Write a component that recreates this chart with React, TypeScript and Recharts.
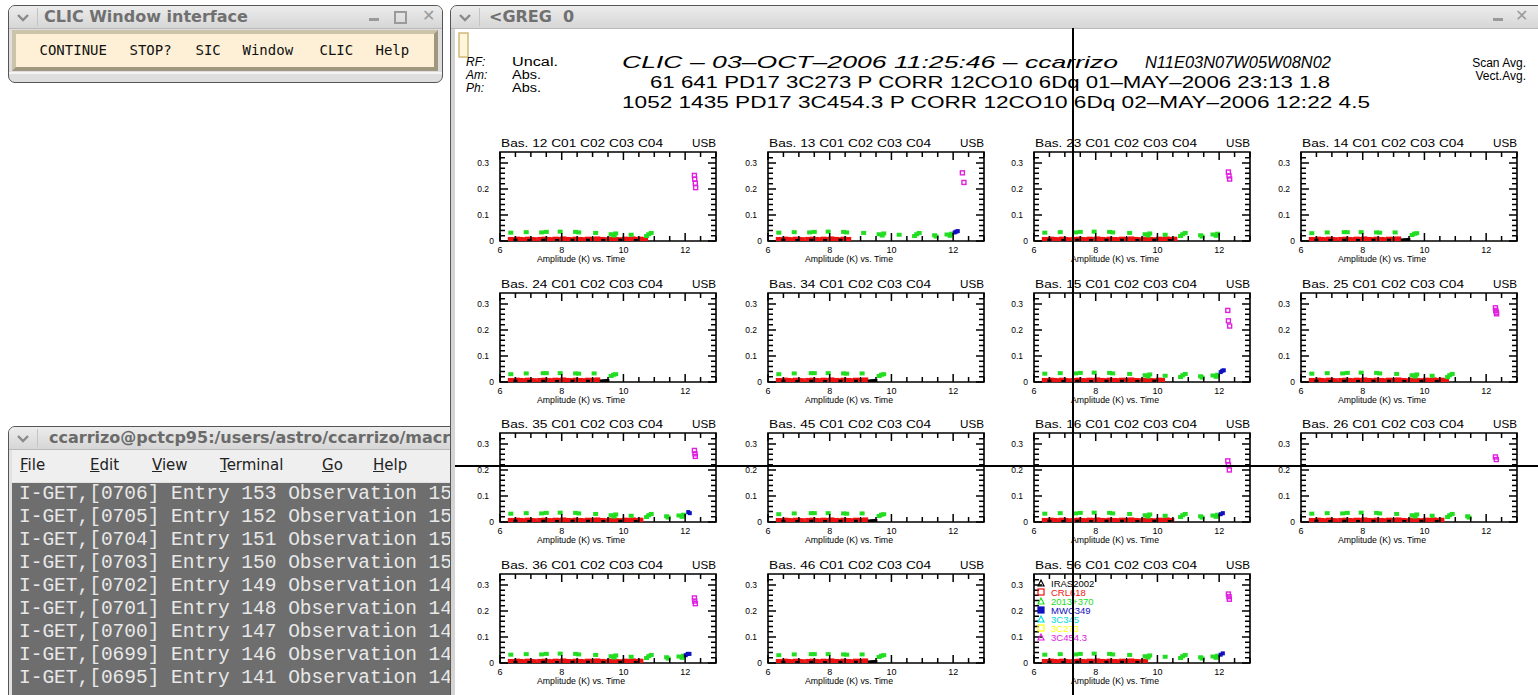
import { ScatterChart, Scatter, XAxis, YAxis, ReferenceArea } from 'recharts'

// axes of every GREG panel (time in hours vs amplitude in K)
const X_TICKS = [6, 6.5, 7, 7.5, 8, 8.5, 9, 9.5, 10, 10.5, 11, 11.5, 12, 12.5, 13]
const X_LABELS = [6, 8, 10, 12]
const Y_TICKS = [0, 0.02, 0.04, 0.06, 0.08, 0.1, 0.12, 0.14, 0.16, 0.18, 0.2, 0.22, 0.24, 0.26, 0.28, 0.3, 0.32]
const Y_LABELS = [0, 0.1, 0.2, 0.3]
const Y_MAX = 0.342

// green source (2013+370) - full and antenna-4 baselines
const GREEN_FULL: [number, number][] = [
  [6.35, 0.032], [6.85, 0.034], [7.35, 0.033], [7.5, 0.035], [7.95, 0.036], [8.45, 0.035], [8.55, 0.033],
  [9.1, 0.031], [9.6, 0.026], [9.7, 0.021], [9.75, 0.029], [10.25, 0.024], [10.75, 0.019], [10.82, 0.026],
  [10.9, 0.031], [11.4, 0.022], [11.45, 0.017], [11.8, 0.025], [11.9, 0.02], [11.95, 0.028],
]
const GREEN_A4: [number, number][] = [
  [6.35, 0.03], [6.85, 0.033], [7.4, 0.034], [7.5, 0.034], [7.95, 0.034], [8.45, 0.033], [8.55, 0.032],
  [9.05, 0.033], [9.6, 0.023], [9.68, 0.028], [9.75, 0.03],
]
// red source (CRL618) sits on the floor
const RED: [number, number][] = [
  [6.35, 0.006], [6.45, 0.005], [6.55, 0.007], [6.65, 0.006], [6.8, 0.005], [6.9, 0.007], [7.0, 0.006],
  [7.1, 0.005], [7.3, 0.006], [7.45, 0.007], [7.55, 0.006], [7.7, 0.005], [7.8, 0.007], [7.95, 0.006],
  [8.05, 0.008], [8.2, 0.006], [8.3, 0.005], [8.45, 0.007], [8.6, 0.006], [8.75, 0.005], [8.85, 0.007],
  [9.0, 0.006], [9.15, 0.008], [9.3, 0.006], [9.45, 0.005], [9.6, 0.007], [9.75, 0.006], [9.9, 0.005],
  [10.05, 0.007], [10.15, 0.006], [10.3, 0.008], [10.45, 0.006], [10.55, 0.007], [10.7, 0.005],
]
const BLACK_FULL: [number, number][] = [
  [6.5, 0.003], [6.95, 0.002], [7.4, 0.003], [7.85, 0.002], [8.35, 0.003], [8.85, 0.003], [9.35, 0.002], [9.9, 0.003], [10.4, 0.002],
]
const BLACK_A4: [number, number][] = [
  [6.5, 0.003], [6.95, 0.002], [7.4, 0.003], [7.85, 0.002], [8.35, 0.003], [8.85, 0.003],
  [9.3, 0.004], [9.36, 0.004], [9.42, 0.005], [9.48, 0.006],
]

// magenta source (3C454.3) at the end of the track
const MAG_12: [number, number][] = [[12.3, 0.252], [12.31, 0.238], [12.33, 0.222], [12.34, 0.205]]
const MAG_13: [number, number][] = [[12.3, 0.262], [12.35, 0.225]]
const MAG_23: [number, number][] = [[12.3, 0.265], [12.32, 0.25], [12.34, 0.238]]
const MAG_15: [number, number][] = [[12.28, 0.275], [12.3, 0.235], [12.34, 0.215]]
const MAG_25: [number, number][] = [[12.3, 0.285], [12.31, 0.275], [12.33, 0.268], [12.34, 0.262]]
const MAG_35: [number, number][] = [[12.3, 0.275], [12.32, 0.262], [12.33, 0.252]]
const MAG_16: [number, number][] = [[12.28, 0.235], [12.3, 0.22], [12.33, 0.2]]
const MAG_26: [number, number][] = [[12.3, 0.25], [12.33, 0.24]]
const MAG_36: [number, number][] = [[12.3, 0.25], [12.31, 0.238], [12.33, 0.228]]
const MAG_56: [number, number][] = [[12.3, 0.265], [12.32, 0.255], [12.33, 0.245]]

// blue source (MWC349)
const BLUE_13: [number, number][] = [[12.05, 0.033], [12.1, 0.036], [12.15, 0.038]]
const BLUE_15: [number, number][] = [[12.05, 0.038], [12.1, 0.043], [12.15, 0.045]]
const BLUE_35: [number, number][] = [[12.1, 0.038], [12.15, 0.034]]
const BLUE_16: [number, number][] = [[12.05, 0.03], [12.12, 0.034]]
const BLUE_36: [number, number][] = [[12.02, 0.03], [12.08, 0.035], [12.14, 0.035]]
const BLUE_56: [number, number][] = [[12.05, 0.032], [12.12, 0.037]]

const LEGEND = ['IRAS2002', 'CRL618', '2013+370', 'MWC349', '3C345', '3C273', '3C454.3']
const LEGEND_COLORS = ['#000000', '#ee1111', '#22dd22', '#1010c0', '#00dddd', '#ffff00', '#e020e0']

type Pt = [number, number]
interface PanelSpec { bas: string; ant4?: boolean; greenTo?: number; redTo?: number; mag?: Pt[]; blue?: Pt[] }

const PANELS: PanelSpec[] = [
  { bas: '12', greenTo: 10.95, redTo: 10.8, mag: MAG_12 },
  { bas: '13', greenTo: 12, redTo: 8.6, mag: MAG_13, blue: BLUE_13 },
  { bas: '23', greenTo: 12, redTo: 10.6, mag: MAG_23 },
  { bas: '14', ant4: true },
  { bas: '24', ant4: true },
  { bas: '34', ant4: true },
  { bas: '15', greenTo: 12, redTo: 10.2, mag: MAG_15, blue: BLUE_15 },
  { bas: '25', greenTo: 10.95, redTo: 10.7, mag: MAG_25 },
  { bas: '35', greenTo: 12, redTo: 10.6, mag: MAG_35, blue: BLUE_35 },
  { bas: '45', ant4: true },
  { bas: '16', greenTo: 12, redTo: 10.5, mag: MAG_16, blue: BLUE_16 },
  { bas: '26', greenTo: 11.5, redTo: 10.6, mag: MAG_26 },
  { bas: '36', greenTo: 12, redTo: 10.6, mag: MAG_36, blue: BLUE_36 },
  { bas: '46', ant4: true },
  { bas: '56', greenTo: 12, redTo: 9.6, mag: MAG_56, blue: BLUE_56 },
]

// layout
const COL_X = [500, 768, 1034, 1301]
const ROW_Y = [152, 293, 433, 574]
const PW = 216
const PH = 89
const ML = 36, MR = 14, MT = 6, MB = 32
const GFONT = '"Liberation Sans", Arial, sans-serif'

const toPts = (a: Pt[]) => a.map(([t, v]) => ({ t, v }))

// bottom axis tick: inward tick on the bottom and mirrored on the top edge
function XTick(props: any) {
  const x = Number(props.x)
  const y = Number(props.y)
  const v = props.payload.value
  const big = X_LABELS.includes(v)
  const len = big ? 8 : 5
  const d = `M${x},${y}V${y - len}M${x},${y - PH}V${y - PH + len}`
  return (
    <g>
      <path d={d} stroke="#000" strokeWidth={1.5} fill="none" />
      {big && <text x={x} y={y + 12} textAnchor="middle" fontSize={9} fontFamily={GFONT} fill="#000">{v}</text>}
    </g>
  )
}

// left axis tick: inward tick on the left and mirrored on the right edge
function YTick(props: any) {
  const x = Number(props.x)
  const y = Number(props.y)
  const v = props.payload.value
  const big = Y_LABELS.includes(v)
  const len = big ? 8 : 5
  const d = `M${x},${y}H${x + len}M${x + PW},${y}H${x + PW - len}`
  return (
    <g>
      <path d={d} stroke="#000" strokeWidth={1.5} fill="none" />
      {big && (
        <text x={v === 0 ? x - 6 : x - 11} y={y + 3} textAnchor="end" fontSize={8.5} fontFamily={GFONT} fill="#000">
          {v === 0 ? '0' : v.toFixed(1)}
        </text>
      )}
    </g>
  )
}

const box = (w: number, h: number, color: string, open = false) => (p: any) => (
  <rect x={p.cx - w / 2} y={p.cy - h / 2} width={w} height={h}
    fill={open ? 'none' : color} stroke={open ? color : 'none'} strokeWidth={1.4} />
)

function Panel({ p, i }: { p: PanelSpec; i: number }) {
  // axes take 1px each (a zero-sized axis is not drawn)
  const left = COL_X[i % 4] - ML - 1
  const top = ROW_Y[Math.floor(i / 4)] - MT
  const green = p.ant4 ? GREEN_A4 : GREEN_FULL.filter(d => d[0] <= (p.greenTo ?? 13))
  const red = RED.filter(d => d[0] <= (p.ant4 ? 9.2 : p.redTo ?? 13))
  const black = p.ant4 ? BLACK_A4 : BLACK_FULL.filter(d => d[0] <= (p.redTo ?? 13))
  return (
    <div style={{ position: 'absolute', left, top }}>
      <ScatterChart width={ML + 1 + PW + MR} height={MT + PH + 1 + MB} margin={{ top: MT, right: MR, bottom: MB, left: ML }}>
        <ReferenceArea x1={6} x2={13} y1={0} y2={Y_MAX} fill="none" stroke="#000" strokeWidth={1.6} ifOverflow="visible" />
        <Scatter data={toPts(red)} shape={box(6, 5, '#ee1111')} isAnimationActive={false} />
        <Scatter data={toPts(black)} shape={box(4, 3, '#000')} isAnimationActive={false} />
        <Scatter data={toPts(green)} shape={box(5, 4, '#22dd22')} isAnimationActive={false} />
        {p.blue && <Scatter data={toPts(p.blue)} shape={box(4, 4, '#1010c0')} isAnimationActive={false} />}
        {p.mag && <Scatter data={toPts(p.mag)} shape={box(4, 4, '#e020e0', true)} isAnimationActive={false} />}
        <XAxis type="number" dataKey="t" domain={[6, 13]} allowDataOverflow ticks={X_TICKS} interval={0}
          height={1} tickSize={0} tickMargin={0} axisLine={false} tickLine={false} tick={(tp: any) => <XTick {...tp} />} />
        <YAxis type="number" dataKey="v" domain={[0, Y_MAX]} allowDataOverflow ticks={Y_TICKS} interval={0}
          width={1} tickSize={0} tickMargin={0} axisLine={false} tickLine={false} tick={(tp: any) => <YTick {...tp} />} />
      </ScatterChart>
    </div>
  )
}

function Chevron({ x, y }: { x: number; y: number }) {
  return (
    <svg style={{ position: 'absolute', left: x, top: y }} width={14} height={10}>
      <polyline points="2,2 7,7 12,2" fill="none" stroke="#8a8a8a" strokeWidth={2.4} />
    </svg>
  )
}

const titleBar: React.CSSProperties = {
  position: 'absolute', left: 0, top: 0, right: 0, height: 22,
  background: 'linear-gradient(#ececec, #d6d6d6)', borderBottom: '1px solid #b8b8b8',
}
const titleText: React.CSSProperties = {
  position: 'absolute', top: 1, fontFamily: '"DejaVu Sans", sans-serif', fontWeight: 'bold', fontSize: 16, color: '#707070', whiteSpace: 'pre',
}

function ClicWindow() {
  const buttons: [string, number][] = [['CONTINUE', 40], ['STOP?', 130], ['SIC', 196], ['Window', 243], ['CLIC', 320], ['Help', 376]]
  return (
    <div style={{ position: 'absolute', left: 8, top: 5, width: 433, height: 76, border: '1.5px solid #555', borderRadius: 7, background: '#dedede', overflow: 'hidden' }}>
      <div style={titleBar}>
        <Chevron x={7} y={7} />
        <div style={{ position: 'absolute', left: 28, top: 2, width: 1, height: 18, background: '#c4c4c4' }} />
        <div style={{ ...titleText, left: 35 }}>CLIC Window interface</div>
        <div style={{ position: 'absolute', left: 360, top: 12, width: 10, height: 3, background: '#9a9a9a' }} />
        <div style={{ position: 'absolute', left: 385, top: 5, width: 9, height: 9, border: '2px solid #9a9a9a' }} />
        <div style={{ ...titleText, left: 413, top: 0, color: '#9a9a9a', fontSize: 16 }}>✕</div>
      </div>
      <div style={{
        position: 'absolute', left: 3, top: 24, width: 418, height: 33, background: '#fdf0d6',
        borderStyle: 'solid', borderWidth: 4, borderColor: '#cbc3aa #9f977f #9f977f #cbc3aa',
      }}>
        {buttons.map(([b, x]) => (
          <div key={b} style={{ position: 'absolute', left: x - 16.5, top: 8, fontFamily: '"DejaVu Sans Mono", monospace', fontSize: 14, color: '#111' }}>{b}</div>
        ))}
      </div>
      <div style={{ position: 'absolute', left: 0, right: 0, top: 66, height: 2, background: '#f4f4f4' }} />
    </div>
  )
}

const TERM_LINES = [
  'I-GET,[0706] Entry 153 Observation 153',
  'I-GET,[0705] Entry 152 Observation 152',
  'I-GET,[0704] Entry 151 Observation 151',
  'I-GET,[0703] Entry 150 Observation 150',
  'I-GET,[0702] Entry 149 Observation 149',
  'I-GET,[0701] Entry 148 Observation 148',
  'I-GET,[0700] Entry 147 Observation 147',
  'I-GET,[0699] Entry 146 Observation 146',
  'I-GET,[0695] Entry 141 Observation 141',
]
const MENU: [string, string, number][] = [['F', 'ile', 20], ['E', 'dit', 90], ['V', 'iew', 152], ['T', 'erminal', 220], ['G', 'o', 322], ['H', 'elp', 373]]

function TerminalWindow() {
  return (
    <div style={{ position: 'absolute', left: 8, top: 426, width: 470, height: 290, border: '1.5px solid #555', borderRadius: 7, background: '#e2e2e2', overflow: 'hidden' }}>
      <div style={titleBar}>
        <Chevron x={7} y={7} />
        <div style={{ position: 'absolute', left: 28, top: 2, width: 1, height: 18, background: '#c4c4c4' }} />
        <div style={{ ...titleText, left: 40, color: '#6a6a6a' }}>ccarrizo@pctcp95:/users/astro/ccarrizo/macros</div>
      </div>
      <div style={{ position: 'absolute', left: 3, right: 0, top: 23, height: 32, background: '#efefef' }}>
        {MENU.map(([u, rest, x]) => (
          <div key={u} style={{ position: 'absolute', left: x - 12, top: 6, fontFamily: '"DejaVu Sans", sans-serif', fontSize: 15, color: '#222' }}>
            <span style={{ textDecoration: 'underline' }}>{u}</span>{rest}
          </div>
        ))}
      </div>
      <div style={{ position: 'absolute', left: 3, right: 0, top: 56, bottom: 0, background: '#6e6e6e' }}>
        {TERM_LINES.map((l, k) => (
          <div key={k} style={{ position: 'absolute', left: 7, top: k * 23, height: 23, lineHeight: '23px', fontFamily: '"Liberation Mono", monospace', fontSize: 19.5, color: '#e8e8e8', whiteSpace: 'pre' }}>{l}</div>
        ))}
      </div>
    </div>
  )
}

function GregWindow() {
  return (
    <div style={{ position: 'absolute', left: 450, top: 5, width: 1100, height: 700, border: '1.5px solid #555', borderRadius: 7, background: '#d4d4d4', overflow: 'hidden' }}>
      <div style={titleBar}>
        <Chevron x={7} y={7} />
        <div style={{ position: 'absolute', left: 28, top: 2, width: 1, height: 18, background: '#c4c4c4' }} />
        <div style={{ ...titleText, left: 38 }}>{'<GREG  0'}</div>
        <div style={{ position: 'absolute', left: 1042, top: 12, width: 10, height: 3, background: '#9a9a9a' }} />
        <div style={{ ...titleText, left: 1064, top: 0, color: '#9a9a9a', fontSize: 16 }}>✕</div>
      </div>
      <div style={{ position: 'absolute', left: 4, top: 23, right: 0, bottom: 0, background: '#fff' }} />
    </div>
  )
}

function Texts() {
  const t = { fontFamily: GFONT, fill: '#000' }
  return (
    <svg style={{ position: 'absolute', left: 0, top: 0, pointerEvents: 'none' }} width={1538} height={695}>
      <rect x={459} y={33} width={9} height={24} fill="#fff6dc" stroke="#d0b878" strokeWidth={1.5} />
      <text {...t} x={466} y={66} fontSize={12} fontStyle="italic">RF:</text>
      <text {...t} x={466} y={79} fontSize={12} fontStyle="italic">Am:</text>
      <text {...t} x={466} y={92} fontSize={12} fontStyle="italic">Ph:</text>
      <text {...t} x={512} y={66} fontSize={12.5} textLength={46} lengthAdjust="spacingAndGlyphs">Uncal.</text>
      <text {...t} x={512} y={79} fontSize={12.5} textLength={29} lengthAdjust="spacingAndGlyphs">Abs.</text>
      <text {...t} x={512} y={92} fontSize={12.5} textLength={29} lengthAdjust="spacingAndGlyphs">Abs.</text>
      <text {...t} x={622} y={68} fontSize={17} fontStyle="italic" textLength={496} lengthAdjust="spacingAndGlyphs">CLIC – 03–OCT–2006 11:25:46 – ccarrizo</text>
      <text {...t} x={1145} y={68} fontSize={17} fontStyle="italic" textLength={186} lengthAdjust="spacingAndGlyphs">N11E03N07W05W08N02</text>
      <text {...t} x={650} y={88} fontSize={17} textLength={680} lengthAdjust="spacingAndGlyphs">61 641 PD17 3C273 P CORR 12CO10 6Dq 01–MAY–2006 23:13 1.8</text>
      <text {...t} x={622} y={108} fontSize={17} textLength={748} lengthAdjust="spacingAndGlyphs">1052 1435 PD17 3C454.3 P CORR 12CO10 6Dq 02–MAY–2006 12:22 4.5</text>
      <text {...t} x={1526} y={67} fontSize={12} textAnchor="end">Scan Avg.</text>
      <text {...t} x={1526} y={80} fontSize={12} textAnchor="end">Vect.Avg.</text>
      {PANELS.map((p, i) => {
        const x = COL_X[i % 4]
        const y = ROW_Y[Math.floor(i / 4)]
        return (
          <g key={p.bas}>
            <text {...t} x={x + 1} y={y - 5} fontSize={10.5} textLength={162} lengthAdjust="spacingAndGlyphs">{`Bas. ${p.bas} C01 C02 C03 C04`}</text>
            <text {...t} x={x + PW - 24} y={y - 5} fontSize={10.5} textLength={24} lengthAdjust="spacingAndGlyphs">USB</text>
            <text {...t} x={x + 37} y={y + PH + 21} fontSize={9} textLength={88} lengthAdjust="spacingAndGlyphs">Amplitude (K)  vs.  Time</text>
          </g>
        )
      })}
      {LEGEND.map((name, k) => {
        const x = COL_X[2] + 7
        const y = ROW_Y[3] + 9 + k * 9
        const c = LEGEND_COLORS[k]
        return (
          <g key={name}>
            {k % 2 === 0
              ? <polygon points={`${x - 3},${y + 3} ${x + 3},${y + 3} ${x},${y - 3}`} fill={k === 3 ? c : 'none'} stroke={c} strokeWidth={1.2} />
              : <rect x={x - 3} y={y - 3} width={6} height={6} fill={k === 3 ? c : 'none'} stroke={c} strokeWidth={1.2} />}
            <text {...t} fill={c} x={x + 10} y={y + 3.5} fontSize={9.5}>{name}</text>
          </g>
        )
      })}
    </svg>
  )
}

export default function App() {
  return (
    <div style={{ position: 'fixed', left: 0, top: 0, width: 1538, height: 695, background: '#fff', overflow: 'hidden' }}>
      <ClicWindow />
      <TerminalWindow />
      <GregWindow />
      {PANELS.map((p, i) => <Panel key={p.bas} p={p} i={i} />)}
      <Texts />
      <div style={{ position: 'absolute', left: 1072, top: 28, width: 1.5, height: 667, background: '#000' }} />
      <div style={{ position: 'absolute', left: 455, top: 465, width: 1083, height: 1.5, background: '#000' }} />
    </div>
  )
}
